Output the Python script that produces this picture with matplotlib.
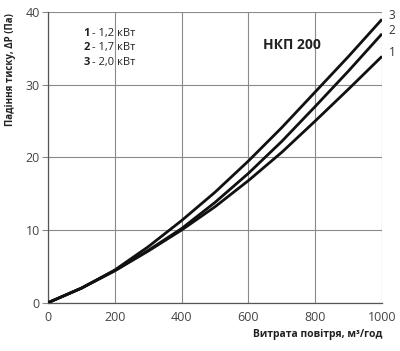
import matplotlib

matplotlib.use('Agg')
import matplotlib.pyplot as plt

plt.rcParams['font.family'] = ['Open Sans', 'DejaVu Sans']

# airflow, m3/h
flow = [0, 100, 200, 300, 400, 500, 600, 700, 800, 900, 1000]
# pressure drop, Pa
curve1 = [0, 2.0, 4.4, 7.1, 10.0, 13.2, 16.8, 20.7, 25.0, 29.4, 33.9]
curve2 = [0, 2.0, 4.4, 7.2, 10.2, 13.8, 17.8, 22.2, 27.0, 31.9, 37.0]
curve3 = [0, 2.0, 4.5, 7.7, 11.3, 15.2, 19.5, 24.1, 29.0, 33.9, 39.0]
curve_names = ['1', '2', '3']
powers = ['1,2 кВт', '1,7 кВт', '2,0 кВт']

fig = plt.figure(figsize=(4.0, 3.51), dpi=100)
ax = fig.add_axes([0.12, 0.1376, 0.835, 0.8282])

grid_col = '#8a8a8a'
for y in curve1, curve2, curve3:
    ax.plot(flow, y, color='#111111', lw=2.0, solid_capstyle='butt', zorder=3)

ax.set_xlim(0, 1000)
ax.set_ylim(0, 40)
ax.set_xticks([0, 200, 400, 600, 800, 1000])
ax.set_yticks([0, 10, 20, 30, 40])
ax.grid(True, color=grid_col, lw=0.8)
for s in ['top', 'right']:
    ax.spines[s].set_visible(False)
for s in ['left', 'bottom']:
    ax.spines[s].set_color('#555555')
    ax.spines[s].set_linewidth(0.9)
ax.tick_params(axis='x', length=0, pad=6, labelsize=9, labelcolor='#444444')
ax.tick_params(axis='y', length=4, color=grid_col, pad=2, labelsize=9, labelcolor='#444444')

ax.set_xlabel('Витрата повітря, м³/год', fontsize=7.5, fontweight='bold',
              color='#222222')
ax.xaxis.set_label_coords(1.0, -0.09)
ax.xaxis.label.set_horizontalalignment('right')
ax.set_ylabel('Падіння тиску, ΔP (Па)', fontsize=7, fontweight='bold',
              color='#222222')
ax.yaxis.label.set_verticalalignment('center')
ax.yaxis.label.set_horizontalalignment('right')
ax.yaxis.set_label_coords(-0.111, 0.997)

# legend block
for i, (n, p) in enumerate(zip(curve_names, powers)):
    yy = 37.1 - 2.05 * i
    ax.text(125, yy, n, fontsize=8, fontweight='bold', color='#222222',
            ha='right', va='center')
    ax.text(132, yy, '- ' + p, fontsize=8, color='#222222', ha='left', va='center')

ax.text(731, 35.4, 'НКП 200', fontsize=10, fontweight='bold', color='#222222',
        ha='center', va='center')

# curve numbers at the right end
for n, y in zip(curve_names, [curve1, curve2, curve3]):
    ax.text(1020, y[-1] + 0.5, n, fontsize=8.5, color='#333333', ha='left',
            va='center', clip_on=False)

fig.savefig('out.png', dpi=100)
